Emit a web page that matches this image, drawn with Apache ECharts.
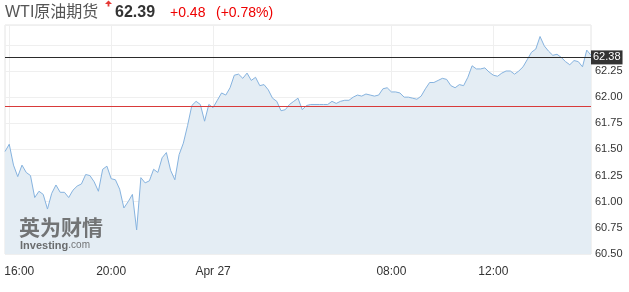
<!DOCTYPE html>
<html><head><meta charset="utf-8">
<script src="https://cdn.jsdelivr.net/npm/echarts@6/dist/echarts.min.js"></script>
<style>html,body{margin:0;padding:0;background:#fff}#c{width:629px;height:292px}</style>
</head><body><div id="c"></div>
<script>
const times = [
"15:50","16:00","16:10","16:20","16:30","16:40","16:50",
"17:00","17:10","17:20","17:30","17:40","17:50",
"18:00","18:10","18:20","18:30","18:40","18:50",
"19:00","19:10","19:20","19:30","19:40","19:50",
"20:00","20:10","20:20","20:30","20:40","20:50",
"21:00","21:10","21:20","21:30","21:40","21:50",
"22:00","22:10","22:20","22:30","22:40","22:50",
"23:00","23:10","23:20","23:30","23:40","23:50",
"00:00","00:10","00:20","00:30","00:40","00:50",
"01:00","01:10","01:20","01:30","01:40","01:50",
"02:00","02:10","02:20","02:30","02:40","02:50",
"03:00","03:10","03:20","03:30","03:40","03:50",
"04:00","04:10","04:20","04:30","04:40","04:50",
"06:00","06:10","06:20","06:30","06:40","06:50",
"07:00","07:10","07:20","07:30","07:40","07:50",
"08:00","08:10","08:20","08:30","08:40","08:50",
"09:00","09:10","09:20","09:30","09:40","09:50",
"10:00","10:10","10:20","10:30","10:40","10:50",
"11:00","11:10","11:20","11:30","11:40","11:50",
"12:00","12:10","12:20","12:30","12:40","12:50",
"13:00","13:10","13:20","13:30","13:40","13:50",
"14:00","14:10","14:20","14:30","14:40","14:50",
"15:00","15:10","15:20","15:30","15:40","15:50"
];
const prices = [
61.48,61.55,61.35,61.24,61.35,61.28,61.25,61.04,61.10,61.07,
60.93,61.08,61.16,61.09,61.09,61.04,61.11,61.15,61.17,61.26,
61.25,61.19,61.10,61.31,61.34,61.22,61.21,61.12,60.94,61.00,
61.07,60.73,61.23,61.18,61.20,61.31,61.28,61.42,61.47,61.30,
61.21,61.45,61.56,61.73,61.92,61.96,61.93,61.77,61.93,61.90,
61.97,62.04,62.02,62.09,62.21,62.22,62.18,62.23,62.16,62.19,
62.11,62.12,62.07,61.99,61.96,61.87,61.88,61.93,61.96,61.99,
61.88,61.92,61.93,61.93,61.93,61.93,61.93,61.96,61.94,61.96,
61.97,61.97,62.00,62.02,62.01,62.03,62.02,62.01,62.02,62.08,
62.09,62.05,62.05,62.04,62.00,62.00,61.99,61.98,62.01,62.08,
62.14,62.14,62.16,62.18,62.17,62.11,62.09,62.12,62.11,62.19,
62.30,62.27,62.27,62.28,62.24,62.21,62.20,62.23,62.25,62.25,
62.22,62.25,62.29,62.36,62.43,62.46,62.58,62.49,62.44,62.40,
62.41,62.38,62.34,62.31,62.35,62.34,62.29,62.45,62.40
];
const tickTimes = ["16:00","20:00","00:00","08:00","12:00"];
const tickLabels = {"16:00":"16:00","20:00":"20:00","00:00":"Apr 27","08:00":"08:00","12:00":"12:00"};
const lastPrice = 62.38;
const prevClose = 61.91;
const titleName = "WTI原油期货";
const titlePrice = "62.39";
const titleChange = "+0.48";
const titlePct = "(+0.78%)";

const FONT = 'Arial, "Liberation Sans", "Noto Sans CJK SC", sans-serif';
const chart = echarts.init(document.getElementById('c'), null, {renderer:'canvas'});
chart.setOption({
  animation:false,
  backgroundColor:'#fff',
  grid:{left:5,right:38,top:25,bottom:38,show:true,borderColor:'#e4e4e4',borderWidth:1},
  xAxis:{
    type:'category', data:times, boundaryGap:false,
    axisLine:{show:false}, axisTick:{show:false},
    axisLabel:{
      interval:(i,v)=>tickTimes.includes(v), margin:12,
      fontFamily:FONT, fontSize:12, color:'#333',
      formatter:(v)=> v==="16:00" ? '{f|'+tickLabels[v]+'}' : tickLabels[v],
      rich:{f:{padding:[0,0,0,20],fontFamily:FONT,fontSize:12,color:'#333'}}
    },
    splitLine:{show:true, interval:(i,v)=>tickTimes.includes(v), lineStyle:{color:'#efefef',width:1}}
  },
  yAxis:{
    type:'value', position:'right', min:60.5, max:62.69, interval:0.25,
    axisLine:{show:false}, axisTick:{show:false},
    axisLabel:{margin:4, fontFamily:FONT, fontSize:11, color:'#333',
      showMaxLabel:false,
      formatter:(v)=> (v>62.4 ? '' : v.toFixed(2))},
    splitLine:{show:true, lineStyle:{color:'#efefef',width:1}}
  },
  series:[{
    type:'line', data:prices, symbol:'none', smooth:false,
    lineStyle:{color:'#86b3df', width:1},
    areaStyle:{color:'#e4edf4', origin:'start', opacity:1},
    z:3,
    markLine:{
      silent:true, symbol:['none','none'], animation:false,
      data:[
        {yAxis:lastPrice, lineStyle:{color:'#2b2b2b',width:1,type:'solid'},
         label:{show:true, position:'end', distance:0, formatter:lastPrice.toFixed(2),
           backgroundColor:'#333', color:'#fff', padding:[2,2,1,2], fontFamily:FONT, fontSize:11}},
        {yAxis:prevClose, lineStyle:{color:'#d83a3a',width:1,type:'solid'}, label:{show:false}}
      ]
    }
  }],
  graphic:[
    {type:'text', left:5, top:5, style:{text:titleName, fontFamily:FONT, fontSize:16, fill:'#555'}},
    {type:'polygon', shape:{points:[[105,4],[108.5,0.5],[112,4]]}, style:{fill:'#e53935'}},
    {type:'rect', shape:{x:107.6,y:3.5,width:1.8,height:3}, style:{fill:'#e53935'}},
    {type:'text', left:115, top:5, style:{text:titlePrice, fontFamily:FONT, fontSize:16, fontWeight:'bold', fill:'#333'}},
    {type:'text', left:170, top:6, style:{text:titleChange, fontFamily:FONT, fontSize:14, fill:'#e00'}},
    {type:'text', left:216, top:6, style:{text:titlePct, fontFamily:FONT, fontSize:14, fill:'#e00'}},
    {type:'text', left:19, top:217, z:10, style:{text:'英为财情', fontFamily:'"Noto Sans CJK SC", sans-serif', fontSize:21, fontWeight:'bold', fill:'rgba(85,85,85,0.8)'}},
    {type:'text', left:20, top:240, z:10, style:{text:'{a|Investing}{b|.com}', rich:{
      a:{fontFamily:FONT, fontSize:11, fontWeight:'bold', fill:'rgba(85,85,85,0.85)'},
      b:{fontFamily:FONT, fontSize:10, fill:'rgba(85,85,85,0.8)'}}}}
  ]
});
</script></body></html>
